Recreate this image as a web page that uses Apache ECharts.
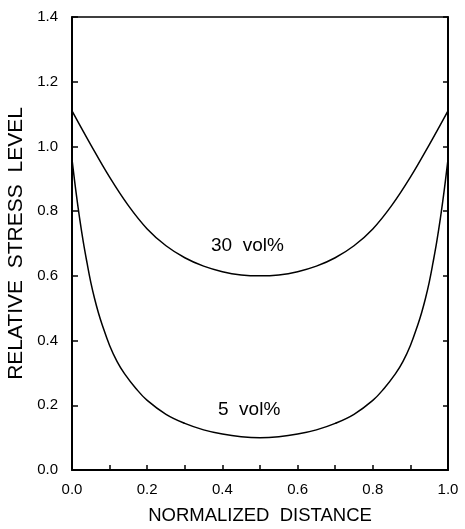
<!DOCTYPE html>
<html>
<head>
<meta charset="utf-8">
<script src="https://cdn.jsdelivr.net/npm/echarts@6/dist/echarts.min.js"></script>
<style>
	html, body { margin: 0; padding: 0; background: #fff; }
	#chart { width: 465px; height: 529px; }
</style>
</head>
<body>
<div id="chart"></div>
<script>
// normalized distance (x) and the two stress curves
var xVals = [0, 0.01, 0.02, 0.03, 0.04, 0.05, 0.06, 0.07, 0.08, 0.10, 0.12, 0.14, 0.17, 0.20, 0.25, 0.30, 0.35, 0.40, 0.45, 0.50,
	0.55, 0.60, 0.65, 0.70, 0.75, 0.80, 0.83, 0.86, 0.88, 0.90, 0.92, 0.93, 0.94, 0.95, 0.96, 0.97, 0.98, 0.99, 1.0];
var vol5 = [0.96, 0.865, 0.78, 0.705, 0.64, 0.58, 0.53, 0.487, 0.45, 0.385, 0.335, 0.297, 0.252, 0.215, 0.172, 0.144, 0.124, 0.111, 0.103, 0.10,
	0.103, 0.111, 0.124, 0.144, 0.172, 0.215, 0.252, 0.297, 0.335, 0.385, 0.45, 0.487, 0.53, 0.58, 0.64, 0.705, 0.78, 0.865, 0.96];
var x30 = [0, 0.05, 0.10, 0.15, 0.20, 0.25, 0.30, 0.35, 0.40, 0.45, 0.50, 0.55, 0.60, 0.65, 0.70, 0.75, 0.80, 0.85, 0.90, 0.95, 1.0];
var vol30 = [1.11, 1.005, 0.905, 0.817, 0.745, 0.693, 0.656, 0.63, 0.613, 0.603, 0.60, 0.603, 0.613, 0.63, 0.656, 0.693, 0.745, 0.817, 0.905, 1.005, 1.11];
var curveNames = ['30 vol%', '5 vol%'];

var font = 'Liberation Sans, Arial, sans-serif';

function pairs (xs, ys) {
	var out = [];
	for (var i = 0; i < xs.length; i++) {
		out.push([xs[i], ys[i]]);
	}
	return out;
}

var chart = echarts.init(document.getElementById('chart'));
var option = {
	animation: false,
	grid: { left: 72, right: 17, top: 17, bottom: 59, outerBoundsMode: 'none' },
	xAxis: [
		{
			type: 'value', min: 0, max: 1, interval: 0.1,
			name: 'NORMALIZED  DISTANCE', nameLocation: 'middle', nameGap: 36,
			nameTextStyle: { fontFamily: font, fontSize: 18.5, color: '#000' },
			axisLine: { onZero: false, lineStyle: { color: '#000', width: 2 } },
			axisTick: { inside: true, length: 5, lineStyle: { color: '#000', width: 1.5 } },
			axisLabel: {
				margin: 12, fontFamily: font, fontSize: 15, color: '#000',
				formatter: function (v) {
					var k = Math.round(v * 10);
					return k % 2 === 0 ? (k / 10).toFixed(1) : '';
				}
			},
			splitLine: { show: false }
		},
		{
			type: 'value', min: 0, max: 1, position: 'top',
			axisLine: { show: true, onZero: false, lineStyle: { color: '#000', width: 1.5 } },
			axisTick: { show: false }, axisLabel: { show: false }, splitLine: { show: false }
		}
	],
	yAxis: [
		{
			type: 'value', min: 0, max: 1.4, interval: 0.2,
			name: 'RELATIVE  STRESS  LEVEL', nameLocation: 'middle', nameGap: 37, nameRotate: 90,
			nameTextStyle: { fontFamily: font, fontSize: 21, color: '#000' },
			axisLine: { show: true, onZero: false, lineStyle: { color: '#000', width: 2 } },
			axisTick: { inside: true, length: 6, lineStyle: { color: '#000', width: 1.5 } },
			axisLabel: {
				margin: 14, fontFamily: font, fontSize: 15, color: '#000',
				formatter: function (v) { return v.toFixed(1); }
			},
			splitLine: { show: false }
		},
		{
			type: 'value', min: 0, max: 1.4, interval: 0.2, position: 'right',
			axisLine: { show: true, onZero: false, lineStyle: { color: '#000', width: 2 } },
			axisTick: { inside: true, length: 5, lineStyle: { color: '#000', width: 1.5 } },
			axisLabel: { show: false }, splitLine: { show: false }
		}
	],
	series: [
		{
			name: curveNames[0], type: 'line', smooth: 0.4, symbol: 'none',
			lineStyle: { color: '#000', width: 1.5 },
			data: pairs(x30, vol30)
		},
		{
			name: curveNames[1], type: 'line', smooth: 0.4, symbol: 'none',
			lineStyle: { color: '#000', width: 1.5 },
			data: pairs(xVals, vol5)
		}
	],
	graphic: [
		{
			type: 'text', left: 211, top: 236,
			style: { text: curveNames[0].replace(' ', '  '), font: '19px ' + font, fill: '#000' }
		},
		{
			type: 'text', left: 218, top: 400,
			style: { text: curveNames[1].replace(' ', '  '), font: '19px ' + font, fill: '#000' }
		}
	]
};
chart.setOption(option);
</script>
</body>
</html>
